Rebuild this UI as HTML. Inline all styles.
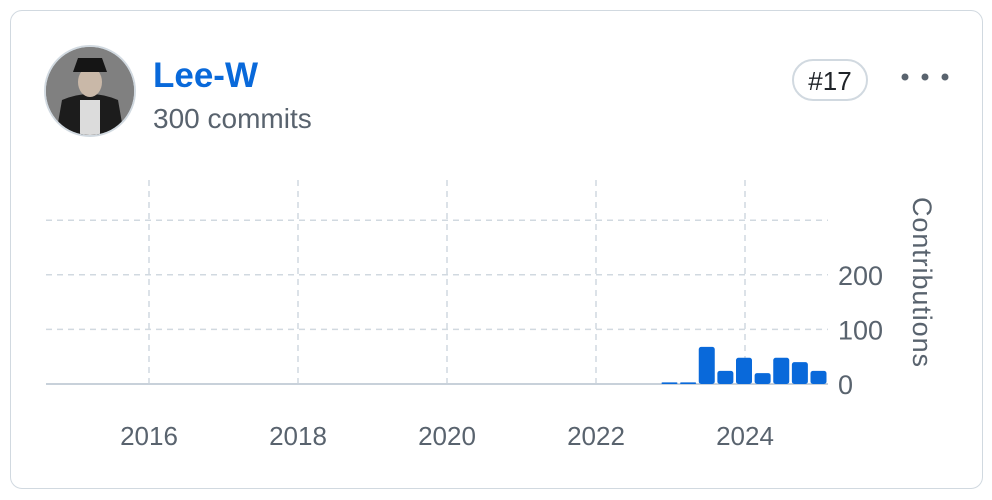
<!DOCTYPE html>
<html><head><meta charset="utf-8"><style>
body{margin:0;width:992px;height:500px;background:#fff;font-family:"Liberation Sans",sans-serif;overflow:hidden}
.card{position:absolute;left:10px;top:10px;width:973px;height:479px;border:1.5px solid #d1d9e0;border-radius:12px;box-sizing:border-box}
</style></head><body>
<div class="card"></div>
<svg width="992" height="500" style="position:absolute;left:0;top:0">
  <defs><clipPath id="av"><circle cx="90" cy="91" r="44"/></clipPath></defs>
  <g>
    <circle cx="90" cy="91" r="45" fill="#7a7a7a" stroke="#d1d9e0" stroke-width="2"/>
    <g clip-path="url(#av)">
      <rect x="40" y="40" width="100" height="100" fill="#808080"/>
      <path d="M55 140 L62 100 Q90 88 118 100 L125 140Z" fill="#1c1c1c"/>
      <rect x="80" y="100" width="20" height="40" fill="#dcdcdc"/>
      <ellipse cx="90" cy="82" rx="12" ry="15" fill="#c9b8a8"/>
      <path d="M73 72 L78 58 L102 58 L107 72 Z" fill="#151515"/>
    </g>
  </g>
  <text x="153" y="87" font-size="35" font-weight="bold" fill="#0969da">Lee-W</text>
  <text x="153" y="128" font-size="28" fill="#59636e">300 commits</text>
  <g>
    <rect x="793" y="60" width="74" height="40" rx="20" fill="#fff" stroke="#d1d9e0" stroke-width="2"/>
    <text x="830" y="90" font-size="26" fill="#1f2328" text-anchor="middle">#17</text>
  </g>
  <g fill="#59636e">
    <circle cx="905" cy="77" r="3.5"/><circle cx="925" cy="77" r="3.5"/><circle cx="945" cy="77" r="3.5"/>
  </g>
  <g id="chart"></g>
  <text transform="translate(913,197) rotate(90)" font-size="27" textLength="170" lengthAdjust="spacing" fill="#59636e">Contributions</text>
</svg>
<script>
const years=[2016,2018,2020,2022,2024];
const yTicks=[0,100,200];
const yGrid=[100,200,300];
const barPeriods=[2023.0,2023.25,2023.5,2023.75,2024.0,2024.25,2024.5,2024.75,2025.0];
const barValues=[3,3,68,24,48,20,48,40,24];

const NS="http://www.w3.org/2000/svg";
const g=document.getElementById('chart');
const x=v=>149+(v-2016)*74.5;
const y=v=>384-v*0.546;
function mk(t,a){const e=document.createElementNS(NS,t);for(const k in a)e.setAttribute(k,a[k]);g.appendChild(e);return e;}
years.forEach(yr=>{
  const l=mk('line',{x1:x(yr),x2:x(yr),y1:180,y2:384,stroke:'#d1d9e0','stroke-width':1.5,'stroke-dasharray':'6,5'});
  
  
  const t=mk('text',{x:x(yr),y:445,'font-size':26,fill:'#59636e','text-anchor':'middle'});
  t.textContent=yr;
  
  
});
yGrid.forEach(v=>{
  const l=mk('line',{x1:46,x2:828,y1:y(v),y2:y(v),stroke:'#d1d9e0','stroke-width':1.5,'stroke-dasharray':'6,5'});
  
  
});
yTicks.forEach(v=>{
  const t=mk('text',{x:838,y:y(v)+10,'font-size':27,fill:'#59636e'});
  t.textContent=v;
  
  
});
const base=mk('line',{x1:46,x2:828,y1:384,y2:384,stroke:'#c8d1da','stroke-width':2});


barPeriods.forEach((p,i)=>{
  const cx=x(p)-1,h=384-y(barValues[i]);
  const r=mk('rect',{x:cx-8,y:384-h,width:16,height:h,rx:Math.min(2.5,h/2),fill:'#0969da'});
  
  
});
</script>
</body></html>
